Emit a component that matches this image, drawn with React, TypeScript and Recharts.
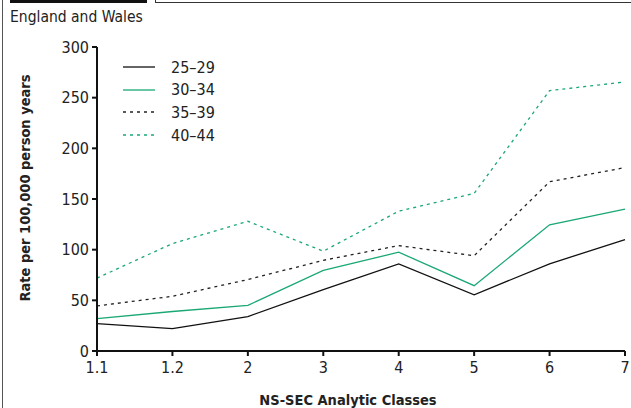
import React from "react";
import { LineChart, Line, XAxis, YAxis } from "recharts";

const classes = ["1.1", "1.2", "2", "3", "4", "5", "6", "7"];
const age25to29 = [27, 22, 34, 60.5, 86, 55.5, 86, 110];
const age30to34 = [32, 39, 45, 79.5, 97.5, 64.5, 124.5, 140];
const age35to39 = [44.5, 54, 70.5, 89.5, 104, 94, 167, 181];
const age40to44 = [72, 106, 128, 98.5, 138, 155.5, 257, 265.5];
const yTicks = [0, 50, 100, 150, 200, 250, 300];

const GREEN = "#1aa874";
const FONT = "'DejaVu Sans Condensed', sans-serif";

const legendItems = [
    { label: "25–29", color: "#111", dash: undefined },
    { label: "30–34", color: GREEN, dash: undefined },
    { label: "35–39", color: "#222", dash: "3 4" },
    { label: "40–44", color: GREEN, dash: "3 4" },
];

export default function App() {
    const data = classes.map((c, i) => ({
        cls: c,
        a: age25to29[i],
        b: age30to34[i],
        c: age35to39[i],
        d: age40to44[i],
    }));

    return (
        <div
            style={{
                position: "absolute",
                left: 0,
                top: 0,
                width: 631,
                height: 408,
                overflow: "hidden",
                background: "#fff",
                fontFamily: FONT,
            }}
        >
            {/* frame bits */}
            <div style={{ position: "absolute", left: 2, top: 0, width: 1, height: 408, background: "#555" }} />
            <div style={{ position: "absolute", left: 10, top: 0, width: 137, height: 3, background: "#111" }} />
            <div
                style={{
                    position: "absolute",
                    left: 155,
                    top: -1,
                    width: 500,
                    height: 2,
                    border: "1px solid #333",
                }}
            />
            <div style={{ position: "absolute", left: 10, top: 8, fontSize: 15.5, color: "#222" }}>
                England and Wales
            </div>

            <LineChart
                width={631}
                height={408}
                data={data}
                margin={{ top: 47, right: 6, bottom: 27, left: 37 }}
            >
                <XAxis
                    dataKey="cls"
                    stroke="#111"
                    strokeWidth={2}
                    tickSize={5}
                    tickMargin={6}
                    tick={{ fill: "#222", fontSize: 16, fontFamily: FONT }}
                    height={30}
                    interval={0}
                />
                <YAxis
                    domain={[0, 300]}
                    ticks={yTicks}
                    stroke="#111"
                    strokeWidth={2}
                    tickSize={5}
                    tickMargin={3}
                    width={60}
                    tick={{ fill: "#222", fontSize: 16, fontFamily: FONT }}
                />
                <Line dataKey="a" stroke="#111" strokeWidth={1.3} dot={false} isAnimationActive={false} />
                <Line dataKey="b" stroke={GREEN} strokeWidth={1.3} dot={false} isAnimationActive={false} />
                <Line dataKey="c" stroke="#222" strokeWidth={1.3} strokeDasharray="3 4" dot={false} isAnimationActive={false} />
                <Line dataKey="d" stroke={GREEN} strokeWidth={1.3} strokeDasharray="3 4" dot={false} isAnimationActive={false} />
            </LineChart>

            {/* legend */}
            {legendItems.map((item, i) => (
                <div key={item.label} style={{ position: "absolute", left: 123, top: 57 + i * 22.7, height: 20, display: "flex", alignItems: "center" }}>
                    <svg width={32} height={4}>
                        <line x1={0} y1={2} x2={32} y2={2} stroke={item.color} strokeWidth={1.3} strokeDasharray={item.dash} />
                    </svg>
                    <span style={{ marginLeft: 16, fontSize: 16, color: "#222" }}>{item.label}</span>
                </div>
            ))}

            {/* axis titles */}
            <div
                style={{
                    position: "absolute",
                    left: 348,
                    top: 400,
                    fontSize: 14.5,
                    fontWeight: "bold",
                    color: "#222",
                    whiteSpace: "nowrap",
                    transform: "translate(-50%, -50%)",
                }}
            >
                NS-SEC Analytic Classes
            </div>
            <div
                style={{
                    position: "absolute",
                    left: 25,
                    top: 188,
                    fontSize: 14.5,
                    fontWeight: "bold",
                    color: "#222",
                    whiteSpace: "nowrap",
                    transform: "translate(-50%, -50%) rotate(-90deg)",
                }}
            >
                Rate per 100,000 person years
            </div>
        </div>
    );
}
